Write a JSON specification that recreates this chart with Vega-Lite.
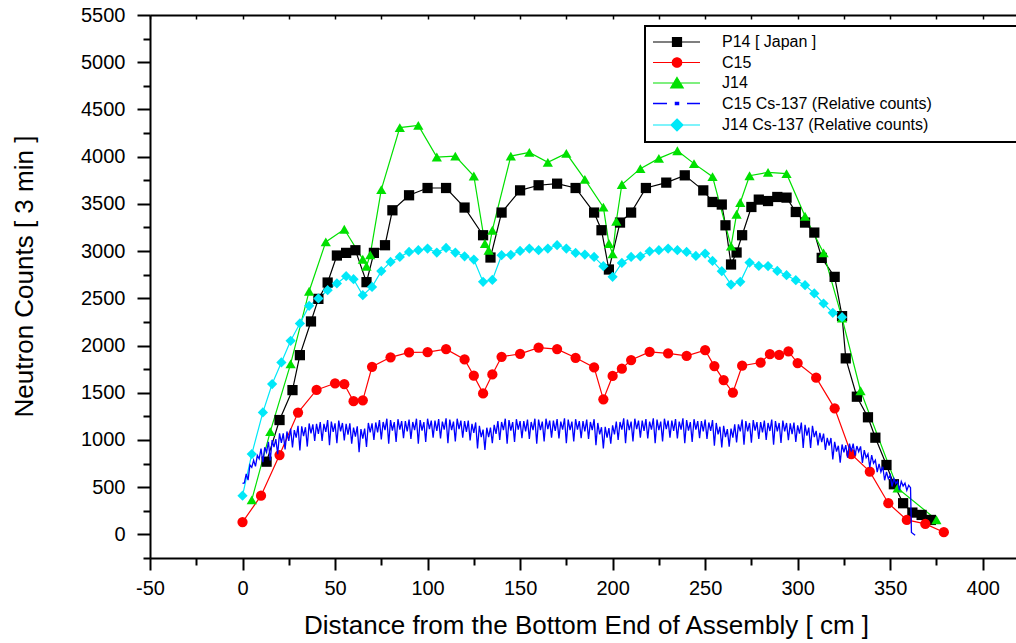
{
  "$schema": "https://vega.github.io/schema/vega-lite/v6.json",
  "width": 866,
  "height": 543,
  "autosize": {"type": "none"},
  "padding": {"left": 150, "top": 15, "right": 0, "bottom": 85},
  "background": "white",
  "config": {
    "font": "Liberation Sans",
    "view": {"stroke": null},
    "axis": {"grid": false, "domainColor": "black", "domainWidth": 2, "tickColor": "black", "tickWidth": 2, "labelColor": "black", "titleColor": "black", "labelFont": "Liberation Sans", "titleFont": "Liberation Sans", "titleFontWeight": "normal", "labelOverlap": false, "labelFlush": false, "labelBound": false}
  },
  "datasets": {
    "main": [
      {"s":"P14 [ Japan ]","x":13,"y":770},{"s":"P14 [ Japan ]","x":20,"y":1211},{"s":"P14 [ Japan ]","x":27,"y":1528},{"s":"P14 [ Japan ]","x":31,"y":1898},{"s":"P14 [ Japan ]","x":37,"y":2255},{"s":"P14 [ Japan ]","x":41,"y":2494},{"s":"P14 [ Japan ]","x":46,"y":2667},{"s":"P14 [ Japan ]","x":51,"y":2953},{"s":"P14 [ Japan ]","x":56,"y":2981},{"s":"P14 [ Japan ]","x":61,"y":3009},{"s":"P14 [ Japan ]","x":67,"y":2671},{"s":"P14 [ Japan ]","x":71,"y":2981},{"s":"P14 [ Japan ]","x":77,"y":3062},{"s":"P14 [ Japan ]","x":81,"y":3432},{"s":"P14 [ Japan ]","x":90,"y":3591},{"s":"P14 [ Japan ]","x":100,"y":3668},{"s":"P14 [ Japan ]","x":110,"y":3668},{"s":"P14 [ Japan ]","x":120,"y":3461},{"s":"P14 [ Japan ]","x":130,"y":3168},{"s":"P14 [ Japan ]","x":134,"y":2932},{"s":"P14 [ Japan ]","x":140,"y":3408},{"s":"P14 [ Japan ]","x":150,"y":3643},{"s":"P14 [ Japan ]","x":160,"y":3697},{"s":"P14 [ Japan ]","x":170,"y":3714},{"s":"P14 [ Japan ]","x":180,"y":3668},{"s":"P14 [ Japan ]","x":190,"y":3408},{"s":"P14 [ Japan ]","x":194,"y":3221},{"s":"P14 [ Japan ]","x":198,"y":2805},{"s":"P14 [ Japan ]","x":204,"y":3302},{"s":"P14 [ Japan ]","x":210,"y":3408},{"s":"P14 [ Japan ]","x":218,"y":3668},{"s":"P14 [ Japan ]","x":229,"y":3725},{"s":"P14 [ Japan ]","x":239,"y":3802},{"s":"P14 [ Japan ]","x":249,"y":3643},{"s":"P14 [ Japan ]","x":254,"y":3520},{"s":"P14 [ Japan ]","x":259,"y":3493},{"s":"P14 [ Japan ]","x":261,"y":3273},{"s":"P14 [ Japan ]","x":264,"y":2858},{"s":"P14 [ Japan ]","x":267,"y":2985},{"s":"P14 [ Japan ]","x":270,"y":3168},{"s":"P14 [ Japan ]","x":275,"y":3467},{"s":"P14 [ Japan ]","x":279,"y":3545},{"s":"P14 [ Japan ]","x":284,"y":3530},{"s":"P14 [ Japan ]","x":289,"y":3573},{"s":"P14 [ Japan ]","x":294,"y":3566},{"s":"P14 [ Japan ]","x":299,"y":3414},{"s":"P14 [ Japan ]","x":304,"y":3302},{"s":"P14 [ Japan ]","x":309,"y":3196},{"s":"P14 [ Japan ]","x":313,"y":2928},{"s":"P14 [ Japan ]","x":320,"y":2727},{"s":"P14 [ Japan ]","x":324,"y":2311},{"s":"P14 [ Japan ]","x":326,"y":1864},{"s":"P14 [ Japan ]","x":332,"y":1458},{"s":"P14 [ Japan ]","x":338,"y":1240},{"s":"P14 [ Japan ]","x":342,"y":1024},{"s":"P14 [ Japan ]","x":348,"y":735},{"s":"P14 [ Japan ]","x":352,"y":531},{"s":"P14 [ Japan ]","x":357,"y":330},{"s":"P14 [ Japan ]","x":362,"y":231},{"s":"P14 [ Japan ]","x":367,"y":206},{"s":"P14 [ Japan ]","x":372,"y":153},
      {"s":"C15","x":0,"y":130},{"s":"C15","x":10,"y":410},{"s":"C15","x":20,"y":840},{"s":"C15","x":30,"y":1290},{"s":"C15","x":40,"y":1530},{"s":"C15","x":50,"y":1600},{"s":"C15","x":55,"y":1590},{"s":"C15","x":60,"y":1410},{"s":"C15","x":65,"y":1420},{"s":"C15","x":70,"y":1775},{"s":"C15","x":80,"y":1875},{"s":"C15","x":90,"y":1927},{"s":"C15","x":100,"y":1930},{"s":"C15","x":110,"y":1962},{"s":"C15","x":120,"y":1853},{"s":"C15","x":125,"y":1680},{"s":"C15","x":130,"y":1493},{"s":"C15","x":135,"y":1694},{"s":"C15","x":140,"y":1881},{"s":"C15","x":150,"y":1912},{"s":"C15","x":160,"y":1978},{"s":"C15","x":170,"y":1962},{"s":"C15","x":180,"y":1870},{"s":"C15","x":190,"y":1768},{"s":"C15","x":195,"y":1430},{"s":"C15","x":200,"y":1678},{"s":"C15","x":205,"y":1755},{"s":"C15","x":210,"y":1846},{"s":"C15","x":220,"y":1933},{"s":"C15","x":230,"y":1916},{"s":"C15","x":240,"y":1890},{"s":"C15","x":250,"y":1950},{"s":"C15","x":255,"y":1782},{"s":"C15","x":260,"y":1634},{"s":"C15","x":265,"y":1502},{"s":"C15","x":270,"y":1786},{"s":"C15","x":280,"y":1820},{"s":"C15","x":285,"y":1910},{"s":"C15","x":290,"y":1900},{"s":"C15","x":295,"y":1937},{"s":"C15","x":300,"y":1814},{"s":"C15","x":310,"y":1660},{"s":"C15","x":320,"y":1335},{"s":"C15","x":329,"y":850},{"s":"C15","x":339,"y":664},{"s":"C15","x":349,"y":330},{"s":"C15","x":359,"y":153},{"s":"C15","x":369,"y":111},{"s":"C15","x":379,"y":23},
      {"s":"J14","x":5,"y":365},{"s":"J14","x":15,"y":1088},{"s":"J14","x":26,"y":1805},{"s":"J14","x":36,"y":2575},{"s":"J14","x":45,"y":3097},{"s":"J14","x":55,"y":3231},{"s":"J14","x":65,"y":2914},{"s":"J14","x":67,"y":2840},{"s":"J14","x":69,"y":2960},{"s":"J14","x":75,"y":3651},{"s":"J14","x":85,"y":4307},{"s":"J14","x":95,"y":4331},{"s":"J14","x":105,"y":3996},{"s":"J14","x":115,"y":4006},{"s":"J14","x":125,"y":3795},{"s":"J14","x":131,"y":3080},{"s":"J14","x":133,"y":3009},{"s":"J14","x":135,"y":3221},{"s":"J14","x":145,"y":4006},{"s":"J14","x":155,"y":4045},{"s":"J14","x":165,"y":3940},{"s":"J14","x":175,"y":4035},{"s":"J14","x":185,"y":3760},{"s":"J14","x":195,"y":3465},{"s":"J14","x":198,"y":3080},{"s":"J14","x":200,"y":2970},{"s":"J14","x":202,"y":3316},{"s":"J14","x":205,"y":3705},{"s":"J14","x":215,"y":3873},{"s":"J14","x":225,"y":3982},{"s":"J14","x":235,"y":4063},{"s":"J14","x":244,"y":3926},{"s":"J14","x":254,"y":3788},{"s":"J14","x":264,"y":3053},{"s":"J14","x":267,"y":3390},{"s":"J14","x":269,"y":3515},{"s":"J14","x":274,"y":3798},{"s":"J14","x":284,"y":3834},{"s":"J14","x":294,"y":3820},{"s":"J14","x":304,"y":3369},{"s":"J14","x":314,"y":2981},{"s":"J14","x":324,"y":2290},{"s":"J14","x":334,"y":1521},{"s":"J14","x":354,"y":490},{"s":"J14","x":375,"y":155},
      {"s":"J14 Cs-137 (Relative counts)","x":0,"y":410},{"s":"J14 Cs-137 (Relative counts)","x":5,"y":851},{"s":"J14 Cs-137 (Relative counts)","x":11,"y":1292},{"s":"J14 Cs-137 (Relative counts)","x":16,"y":1592},{"s":"J14 Cs-137 (Relative counts)","x":21,"y":1821},{"s":"J14 Cs-137 (Relative counts)","x":26,"y":2050},{"s":"J14 Cs-137 (Relative counts)","x":31,"y":2234},{"s":"J14 Cs-137 (Relative counts)","x":36,"y":2420},{"s":"J14 Cs-137 (Relative counts)","x":41,"y":2498},{"s":"J14 Cs-137 (Relative counts)","x":46,"y":2586},{"s":"J14 Cs-137 (Relative counts)","x":51,"y":2657},{"s":"J14 Cs-137 (Relative counts)","x":56,"y":2734},{"s":"J14 Cs-137 (Relative counts)","x":60,"y":2702},{"s":"J14 Cs-137 (Relative counts)","x":65,"y":2533},{"s":"J14 Cs-137 (Relative counts)","x":70,"y":2621},{"s":"J14 Cs-137 (Relative counts)","x":75,"y":2788},{"s":"J14 Cs-137 (Relative counts)","x":80,"y":2885},{"s":"J14 Cs-137 (Relative counts)","x":85,"y":2938},{"s":"J14 Cs-137 (Relative counts)","x":90,"y":2991},{"s":"J14 Cs-137 (Relative counts)","x":95,"y":3009},{"s":"J14 Cs-137 (Relative counts)","x":100,"y":3027},{"s":"J14 Cs-137 (Relative counts)","x":105,"y":2985},{"s":"J14 Cs-137 (Relative counts)","x":110,"y":3033},{"s":"J14 Cs-137 (Relative counts)","x":115,"y":2985},{"s":"J14 Cs-137 (Relative counts)","x":120,"y":2945},{"s":"J14 Cs-137 (Relative counts)","x":125,"y":2910},{"s":"J14 Cs-137 (Relative counts)","x":130,"y":2674},{"s":"J14 Cs-137 (Relative counts)","x":135,"y":2695},{"s":"J14 Cs-137 (Relative counts)","x":140,"y":2956},{"s":"J14 Cs-137 (Relative counts)","x":145,"y":2960},{"s":"J14 Cs-137 (Relative counts)","x":150,"y":3002},{"s":"J14 Cs-137 (Relative counts)","x":155,"y":3027},{"s":"J14 Cs-137 (Relative counts)","x":160,"y":3009},{"s":"J14 Cs-137 (Relative counts)","x":165,"y":3027},{"s":"J14 Cs-137 (Relative counts)","x":170,"y":3062},{"s":"J14 Cs-137 (Relative counts)","x":175,"y":3027},{"s":"J14 Cs-137 (Relative counts)","x":180,"y":2981},{"s":"J14 Cs-137 (Relative counts)","x":185,"y":2963},{"s":"J14 Cs-137 (Relative counts)","x":190,"y":2938},{"s":"J14 Cs-137 (Relative counts)","x":195,"y":2840},{"s":"J14 Cs-137 (Relative counts)","x":200,"y":2727},{"s":"J14 Cs-137 (Relative counts)","x":205,"y":2875},{"s":"J14 Cs-137 (Relative counts)","x":210,"y":2938},{"s":"J14 Cs-137 (Relative counts)","x":215,"y":2945},{"s":"J14 Cs-137 (Relative counts)","x":220,"y":2998},{"s":"J14 Cs-137 (Relative counts)","x":225,"y":3009},{"s":"J14 Cs-137 (Relative counts)","x":230,"y":3027},{"s":"J14 Cs-137 (Relative counts)","x":235,"y":3009},{"s":"J14 Cs-137 (Relative counts)","x":240,"y":2991},{"s":"J14 Cs-137 (Relative counts)","x":245,"y":2949},{"s":"J14 Cs-137 (Relative counts)","x":250,"y":2974},{"s":"J14 Cs-137 (Relative counts)","x":254,"y":2896},{"s":"J14 Cs-137 (Relative counts)","x":259,"y":2787},{"s":"J14 Cs-137 (Relative counts)","x":264,"y":2646},{"s":"J14 Cs-137 (Relative counts)","x":269,"y":2674},{"s":"J14 Cs-137 (Relative counts)","x":274,"y":2879},{"s":"J14 Cs-137 (Relative counts)","x":279,"y":2843},{"s":"J14 Cs-137 (Relative counts)","x":284,"y":2842},{"s":"J14 Cs-137 (Relative counts)","x":289,"y":2790},{"s":"J14 Cs-137 (Relative counts)","x":294,"y":2745},{"s":"J14 Cs-137 (Relative counts)","x":299,"y":2692},{"s":"J14 Cs-137 (Relative counts)","x":304,"y":2639},{"s":"J14 Cs-137 (Relative counts)","x":309,"y":2551},{"s":"J14 Cs-137 (Relative counts)","x":314,"y":2445},{"s":"J14 Cs-137 (Relative counts)","x":319,"y":2346},{"s":"J14 Cs-137 (Relative counts)","x":324,"y":2300}
    ],
    "cs": [
      {"x":0,"y":540},{"x":1,"y":545},{"x":2,"y":640},{"x":3,"y":575},{"x":4,"y":735},{"x":5,"y":710},{"x":6,"y":785},{"x":7,"y":720},{"x":8,"y":835},{"x":9,"y":800},
      {"x":10,"y":908},{"x":11,"y":764},{"x":12,"y":923},{"x":13,"y":870},{"x":14,"y":981},{"x":15,"y":784},{"x":16,"y":999},{"x":17,"y":924},{"x":18,"y":1008},{"x":19,"y":850},
      {"x":20,"y":1070},{"x":21,"y":970},{"x":22,"y":1070},{"x":23,"y":900},{"x":24,"y":1090},{"x":25,"y":990},{"x":26,"y":1120},{"x":27,"y":920},{"x":28,"y":1105},{"x":29,"y":1025},
      {"x":30,"y":1150},{"x":31,"y":890},{"x":32,"y":1145},{"x":33,"y":1040},{"x":34,"y":1135},{"x":35,"y":930},{"x":36,"y":1175},{"x":37,"y":1070},{"x":38,"y":1165},{"x":39,"y":990},
      {"x":40,"y":1170},{"x":41,"y":1065},{"x":42,"y":1190},{"x":43,"y":990},{"x":44,"y":1170},{"x":45,"y":1085},{"x":46,"y":1210},{"x":47,"y":945},{"x":48,"y":1195},{"x":49,"y":1085},
      {"x":50,"y":1175},{"x":51,"y":965},{"x":52,"y":1205},{"x":53,"y":1090},{"x":54,"y":1180},{"x":55,"y":995},{"x":56,"y":1170},{"x":57,"y":1055},{"x":58,"y":1175},{"x":59,"y":960},
      {"x":60,"y":1130},{"x":61,"y":1035},{"x":62,"y":1145},{"x":63,"y":870},{"x":64,"y":1115},{"x":65,"y":1015},{"x":66,"y":1120},{"x":67,"y":925},{"x":68,"y":1180},{"x":69,"y":1080},
      {"x":70,"y":1175},{"x":71,"y":1000},{"x":72,"y":1185},{"x":73,"y":1080},{"x":74,"y":1210},{"x":75,"y":1005},{"x":76,"y":1190},{"x":77,"y":1105},{"x":78,"y":1225},{"x":79,"y":960},
      {"x":80,"y":1210},{"x":81,"y":1100},{"x":82,"y":1190},{"x":83,"y":980},{"x":84,"y":1220},{"x":85,"y":1110},{"x":86,"y":1200},{"x":87,"y":1020},{"x":88,"y":1200},{"x":89,"y":1090},
      {"x":90,"y":1215},{"x":91,"y":1010},{"x":92,"y":1190},{"x":93,"y":1105},{"x":94,"y":1225},{"x":95,"y":960},{"x":96,"y":1210},{"x":97,"y":1100},{"x":98,"y":1190},{"x":99,"y":980},
      {"x":100,"y":1225},{"x":101,"y":1115},{"x":102,"y":1205},{"x":103,"y":1025},{"x":104,"y":1205},{"x":105,"y":1095},{"x":106,"y":1220},{"x":107,"y":1015},{"x":108,"y":1195},{"x":109,"y":1110},
      {"x":110,"y":1230},{"x":111,"y":965},{"x":112,"y":1215},{"x":113,"y":1105},{"x":114,"y":1195},{"x":115,"y":985},{"x":116,"y":1225},{"x":117,"y":1115},{"x":118,"y":1205},{"x":119,"y":1025},
      {"x":120,"y":1200},{"x":121,"y":1085},{"x":122,"y":1205},{"x":123,"y":995},{"x":124,"y":1170},{"x":125,"y":1075},{"x":126,"y":1185},{"x":127,"y":910},{"x":128,"y":1150},{"x":129,"y":1030},
      {"x":130,"y":1110},{"x":131,"y":895},{"x":132,"y":1130},{"x":133,"y":1030},{"x":134,"y":1130},{"x":135,"y":965},{"x":136,"y":1160},{"x":137,"y":1065},{"x":138,"y":1200},{"x":139,"y":1000},
      {"x":140,"y":1190},{"x":141,"y":1105},{"x":142,"y":1225},{"x":143,"y":960},{"x":144,"y":1210},{"x":145,"y":1100},{"x":146,"y":1190},{"x":147,"y":980},{"x":148,"y":1220},{"x":149,"y":1110},
      {"x":150,"y":1200},{"x":151,"y":1020},{"x":152,"y":1200},{"x":153,"y":1090},{"x":154,"y":1215},{"x":155,"y":1010},{"x":156,"y":1190},{"x":157,"y":1105},{"x":158,"y":1225},{"x":159,"y":960},
      {"x":160,"y":1215},{"x":161,"y":1105},{"x":162,"y":1195},{"x":163,"y":985},{"x":164,"y":1225},{"x":165,"y":1115},{"x":166,"y":1205},{"x":167,"y":1025},{"x":168,"y":1205},{"x":169,"y":1095},
      {"x":170,"y":1220},{"x":171,"y":1015},{"x":172,"y":1195},{"x":173,"y":1110},{"x":174,"y":1230},{"x":175,"y":965},{"x":176,"y":1215},{"x":177,"y":1105},{"x":178,"y":1195},{"x":179,"y":985},
      {"x":180,"y":1220},{"x":181,"y":1110},{"x":182,"y":1200},{"x":183,"y":1020},{"x":184,"y":1200},{"x":185,"y":1090},{"x":186,"y":1215},{"x":187,"y":1010},{"x":188,"y":1190},{"x":189,"y":1105},
      {"x":190,"y":1220},{"x":191,"y":945},{"x":192,"y":1180},{"x":193,"y":1060},{"x":194,"y":1135},{"x":195,"y":910},{"x":196,"y":1140},{"x":197,"y":1025},{"x":198,"y":1125},{"x":199,"y":960},
      {"x":200,"y":1155},{"x":201,"y":1060},{"x":202,"y":1195},{"x":203,"y":1000},{"x":204,"y":1190},{"x":205,"y":1110},{"x":206,"y":1230},{"x":207,"y":965},{"x":208,"y":1215},{"x":209,"y":1105},
      {"x":210,"y":1195},{"x":211,"y":985},{"x":212,"y":1225},{"x":213,"y":1115},{"x":214,"y":1205},{"x":215,"y":1025},{"x":216,"y":1205},{"x":217,"y":1095},{"x":218,"y":1220},{"x":219,"y":1015},
      {"x":220,"y":1195},{"x":221,"y":1110},{"x":222,"y":1230},{"x":223,"y":965},{"x":224,"y":1215},{"x":225,"y":1105},{"x":226,"y":1195},{"x":227,"y":985},{"x":228,"y":1225},{"x":229,"y":1115},
      {"x":230,"y":1205},{"x":231,"y":1025},{"x":232,"y":1205},{"x":233,"y":1095},{"x":234,"y":1220},{"x":235,"y":1015},{"x":236,"y":1195},{"x":237,"y":1110},{"x":238,"y":1230},{"x":239,"y":965},
      {"x":240,"y":1210},{"x":241,"y":1100},{"x":242,"y":1190},{"x":243,"y":980},{"x":244,"y":1220},{"x":245,"y":1110},{"x":246,"y":1200},{"x":247,"y":1020},{"x":248,"y":1200},{"x":249,"y":1090},
      {"x":250,"y":1215},{"x":251,"y":1010},{"x":252,"y":1185},{"x":253,"y":1095},{"x":254,"y":1210},{"x":255,"y":940},{"x":256,"y":1180},{"x":257,"y":1060},{"x":258,"y":1140},{"x":259,"y":920},
      {"x":260,"y":1150},{"x":261,"y":1030},{"x":262,"y":1115},{"x":263,"y":930},{"x":264,"y":1120},{"x":265,"y":1025},{"x":266,"y":1165},{"x":267,"y":975},{"x":268,"y":1165},{"x":269,"y":1090},
      {"x":270,"y":1215},{"x":271,"y":950},{"x":272,"y":1200},{"x":273,"y":1090},{"x":274,"y":1180},{"x":275,"y":970},{"x":276,"y":1210},{"x":277,"y":1100},{"x":278,"y":1190},{"x":279,"y":1010},
      {"x":280,"y":1190},{"x":281,"y":1080},{"x":282,"y":1205},{"x":283,"y":1000},{"x":284,"y":1180},{"x":285,"y":1095},{"x":286,"y":1215},{"x":287,"y":950},{"x":288,"y":1200},{"x":289,"y":1090},
      {"x":290,"y":1180},{"x":291,"y":968},{"x":292,"y":1205},{"x":293,"y":1092},{"x":294,"y":1180},{"x":295,"y":998},{"x":296,"y":1175},{"x":297,"y":1062},{"x":298,"y":1185},{"x":299,"y":978},
      {"x":300,"y":1155},{"x":301,"y":1067},{"x":302,"y":1185},{"x":303,"y":915},{"x":304,"y":1160},{"x":305,"y":1045},{"x":306,"y":1130},{"x":307,"y":915},{"x":308,"y":1150},{"x":309,"y":1030},
      {"x":310,"y":1096},{"x":311,"y":942},{"x":312,"y":1076},{"x":313,"y":978},{"x":314,"y":1068},{"x":315,"y":894},{"x":316,"y":1023},{"x":317,"y":940},{"x":318,"y":1021},{"x":319,"y":794},
      {"x":320,"y":979},{"x":321,"y":876},{"x":322,"y":938},{"x":323,"y":760},{"x":324,"y":952},{"x":325,"y":869},{"x":326,"y":946},{"x":327,"y":812},{"x":328,"y":961},{"x":329,"y":878},
      {"x":330,"y":961},{"x":331,"y":833},{"x":332,"y":936},{"x":333,"y":875},{"x":334,"y":932},{"x":335,"y":758},{"x":336,"y":893},{"x":337,"y":812},{"x":338,"y":851},{"x":339,"y":710},
      {"x":340,"y":839},{"x":341,"y":753},{"x":342,"y":787},{"x":343,"y":659},{"x":344,"y":747},{"x":345,"y":661},{"x":346,"y":716},{"x":347,"y":573},{"x":348,"y":661},{"x":349,"y":590},
      {"x":350,"y":628},{"x":351,"y":507},{"x":352,"y":592},{"x":353,"y":538},{"x":354,"y":564},{"x":355,"y":470},{"x":356,"y":561},{"x":357,"y":512},{"x":358,"y":543},{"x":359,"y":466},
      {"x":360,"y":520},{"x":361,"y":495},{"x":361.5,"y":20},{"x":363.5,"y":-10}
    ]
  },
  "resolve": {"axis": {"x": "independent", "y": "independent"}},
  "layer": [
    {
      "data": {"name": "main"},
      "mark": {"type": "line", "strokeWidth": 1.2},
      "encoding": {
        "x": {
          "field": "x", "type": "quantitative",
          "scale": {"domain": [-50, 418], "nice": false, "zero": false},
          "axis": {
            "orient": "bottom",
            "values": [-50,-25,0,25,50,75,100,125,150,175,200,225,250,275,300,325,350,375,400],
            "labelExpr": "datum.value % 50 === 0 ? '' + datum.value : ''",
            "tickSize": {"condition": {"test": "datum.value % 50 === 0", "value": 12}, "value": 7},
            "labelFontSize": 20, "labelPadding": 8,
            "title": "Distance from the Bottom End of Assembly [ cm ]",
            "titleFontSize": 26, "titleX": 436, "titleY": 75, "titleBaseline": "alphabetic", "titleAlign": "center"
          }
        },
        "y": {
          "field": "y", "type": "quantitative",
          "scale": {"domain": [-250, 5500], "nice": false, "zero": false},
          "axis": {
            "orient": "left",
            "values": [-250,0,250,500,750,1000,1250,1500,1750,2000,2250,2500,2750,3000,3250,3500,3750,4000,4250,4500,4750,5000,5250,5500],
            "labelExpr": "datum.value % 500 === 0 ? '' + datum.value : ''",
            "tickSize": {"condition": {"test": "datum.value % 500 === 0", "value": 13}, "value": 7},
            "labelFontSize": 20, "labelPadding": 12,
            "title": "Neutron Counts [ 3 min ]",
            "titleFontSize": 26, "titleX": -118, "titleY": 261, "titleAngle": 270, "titleBaseline": "alphabetic", "titleAlign": "center"
          }
        },
        "color": {
          "field": "s", "type": "nominal",
          "scale": {
            "domain": ["P14 [ Japan ]", "C15", "J14", "C15 Cs-137 (Relative counts)", "J14 Cs-137 (Relative counts)"],
            "range": ["#000000", "#ff0000", "#00e000", "#0000ff", "#00e8f8"]
          },
          "legend": {
            "orient": "none", "legendX": 495, "legendY": 11, "direction": "vertical",
            "title": " ", "titleOrient": "right", "titlePadding": 80, "titleFontSize": 16,
            "fillColor": "white", "strokeColor": "black", "padding": 8,
            "labelFont": "Liberation Sans", "labelFontSize": 16, "labelColor": "black", "labelLimit": 400,
            "symbolSize": 100, "symbolOffset": 16, "labelOffset": 37, "rowPadding": 4.5, "symbolStrokeWidth": 1.2,
            "encode": {
              "legend": {"update": {"strokeWidth": {"value": 2}}},
              "symbols": {"update": {
                "shape": {"signal": "datum.value === 'P14 [ Japan ]' ? 'M-4.8,0H4.6M-0.9,-0.9H0.9V0.9H-0.9Z' : datum.value === 'C15' ? 'M-4.8,0H4.6M0.95,0A0.95,0.95,0,1,1,-0.95,0A0.95,0.95,0,1,1,0.95,0Z' : datum.value === 'J14' ? 'M-4.8,0H4.6M0,-1.1L1.25,1H-1.25Z' : datum.value === 'C15 Cs-137 (Relative counts)' ? 'M-4.8,0H-2M-0.3,-0.2H0.3V0.2H-0.3ZM2,0H4.6' : 'M-4.8,0H4.6M0,-1.2L1.2,0L0,1.2L-1.2,0Z'"},
                "fill": {"signal": "datum.value === 'P14 [ Japan ]' ? '#000000' : datum.value === 'C15' ? '#ff0000' : datum.value === 'J14' ? '#00e000' : datum.value === 'C15 Cs-137 (Relative counts)' ? '#0000ff' : '#00e8f8'"},
                "stroke": {"signal": "datum.value === 'P14 [ Japan ]' ? '#000000' : datum.value === 'C15' ? '#ff0000' : datum.value === 'J14' ? '#00e000' : datum.value === 'C15 Cs-137 (Relative counts)' ? '#0000ff' : '#00e8f8'"},
                "strokeWidth": {"signal": "datum.value === 'C15 Cs-137 (Relative counts)' ? 1.5 : 1.2"},
                "strokeDash": {"value": []},
                "opacity": {"value": 1},
                "fillOpacity": {"value": 1},
                "strokeOpacity": {"value": 1}
              }}
            }
          }
        }
      }
    },
    {
      "data": {"name": "main"},
      "mark": {"type": "point", "filled": true, "opacity": 1, "size": 105},
      "encoding": {
        "x": {"field": "x", "type": "quantitative", "axis": null},
        "y": {"field": "y", "type": "quantitative", "axis": null},
        "color": {
          "field": "s", "type": "nominal", "legend": null,
          "scale": {
            "domain": ["P14 [ Japan ]", "C15", "J14", "C15 Cs-137 (Relative counts)", "J14 Cs-137 (Relative counts)"],
            "range": ["#000000", "#ff0000", "#00e000", "#0000ff", "#00e8f8"]
          }
        },
        "shape": {
          "field": "s", "type": "nominal",
          "scale": {"domain": ["P14 [ Japan ]", "C15", "J14", "J14 Cs-137 (Relative counts)"], "range": ["square", "circle", "triangle-up", "diamond"]},
          "legend": null
        }
      }
    },
    {
      "data": {"name": "cs"},
      "mark": {"type": "line", "color": "#0000ff", "strokeWidth": 1.3},
      "encoding": {
        "x": {
          "field": "x", "type": "quantitative",
          "axis": {"orient": "top", "values": [-50,-25,0,25,50,75,100,125,150,175,200,225,250,275,300,325,350,375,400], "labels": false, "tickSize": -4, "tickWidth": 1.5, "title": null}
        },
        "y": {"field": "y", "type": "quantitative", "axis": null}
      }
    }
  ]
}
